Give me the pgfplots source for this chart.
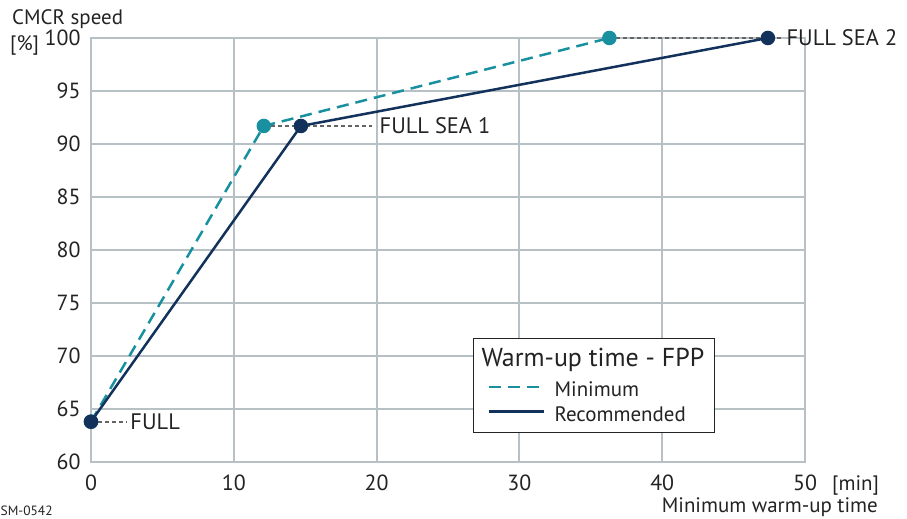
\documentclass[border=0pt]{standalone}
\usepackage{fontspec}
\setmainfont{PT Sans}
\usepackage{pgfplots}
\pgfplotsset{compat=1.18}
\definecolor{teal1}{RGB}{24,144,160}
\definecolor{navy1}{RGB}{18,50,92}
\definecolor{gridg}{RGB}{182,192,197}
\definecolor{txt}{RGB}{35,35,35}
\definecolor{annot}{RGB}{100,100,100}
\begin{document}
\begin{tikzpicture}[x=1bp,y=1bp]
\path[use as bounding box] (0,0) rectangle (907,519);
\begin{axis}[
  at={(91bp,57bp)}, anchor=south west,
  scale only axis, width=714bp, height=424bp,
  xmin=0, xmax=50, ymin=60, ymax=100,
  xtick={0,10,...,50}, ytick={60,65,...,100},
  grid=major, major grid style={gridg, line width=2bp},
  axis line style={gridg, line width=2bp},
  major tick length=0pt,
  tick label style={font=\fontsize{22}{22}\selectfont, text=txt},
  /pgf/number format/assume math mode=true,
  xticklabel style={yshift=-9bp},
  yticklabel style={xshift=-7bp},
  clip=false,
  legend cell align=left,
  legend image code/.code={\path[draw=none,fill=none] (0bp,0bp) rectangle (62bp,6bp); \draw[#1, line width=2.8bp] (5bp,3bp) -- (60bp,3bp);},
  legend style={at={(0.535,0.2925)}, anchor=north west, draw=txt, line width=1.2bp,
    fill=white, font=\fontsize{21}{24}\selectfont, text=txt,
    inner xsep=10bp, inner ysep=8bp, row sep=4bp, column sep=9bp,
    nodes={inner xsep=0bp, inner ysep=2bp}},
]
\addlegendimage{empty legend}
\addlegendentry[font=\fontsize{26}{30}\selectfont, text depth=7bp]{\hspace*{-73bp}Warm-up time - FPP}
\addlegendimage{teal1, line width=2.8bp, dash pattern=on 12bp off 7bp}
\addlegendentry{Minimum}
\addlegendimage{navy1, line width=2.8bp}
\addlegendentry{Recommended}

\addplot[annot, line width=1.7bp, dash pattern=on 4bp off 3bp, forget plot] coordinates {(0,63.8) (2.5,63.8)};
\addplot[annot, line width=1.7bp, dash pattern=on 4bp off 3bp, forget plot] coordinates {(12.1,91.7) (19.7,91.7)};
\addplot[annot, line width=1.7bp, dash pattern=on 4bp off 3bp, forget plot] coordinates {(36.3,100) (48.3,100)};

\addplot[teal1, line width=2.5bp, dash pattern=on 12bp off 7bp, mark=*, mark size=6bp, mark options={solid, fill=teal1, draw=teal1}, forget plot]
  coordinates {(0,63.8) (12.1,91.7) (36.3,100)};
\addplot[navy1, line width=2.5bp, mark=*, mark size=6bp, mark options={solid, fill=navy1, draw=navy1}, forget plot]
  coordinates {(0,63.8) (14.7,91.7) (47.4,100)};

\node[anchor=west, font=\fontsize{22.5}{22.5}\selectfont, text=txt, inner xsep=0pt] at (axis cs:2.75,63.8) {FULL};
\node[anchor=west, font=\fontsize{22.5}{22.5}\selectfont, text=txt, inner xsep=0pt] at (axis cs:20.2,91.7) {FULL SEA 1};
\node[anchor=west, font=\fontsize{22.5}{22.5}\selectfont, text=txt, inner xsep=0pt] at (axis cs:48.7,100) {FULL SEA 2};
\end{axis}
\node[anchor=west, font=\fontsize{21}{21}\selectfont, text=txt, inner sep=0pt] at (12,500) {CMCR speed};
\node[anchor=west, font=\fontsize{21}{21}\selectfont, text=txt, inner sep=0pt] at (10,474) {[\%]};
\node[anchor=west, font=\fontsize{21}{21}\selectfont, text=txt, inner sep=0pt] at (832,33) {[min]};
\node[anchor=base east, font=\fontsize{21}{21}\selectfont, text=txt, inner sep=0pt] at (878,6) {Minimum warm-up time};
\node[anchor=base west, font=\fontsize{13.5}{13.5}\selectfont, text=txt, inner sep=0pt] at (0.5,3.5) {SM-0542};
\end{tikzpicture}
\end{document}
